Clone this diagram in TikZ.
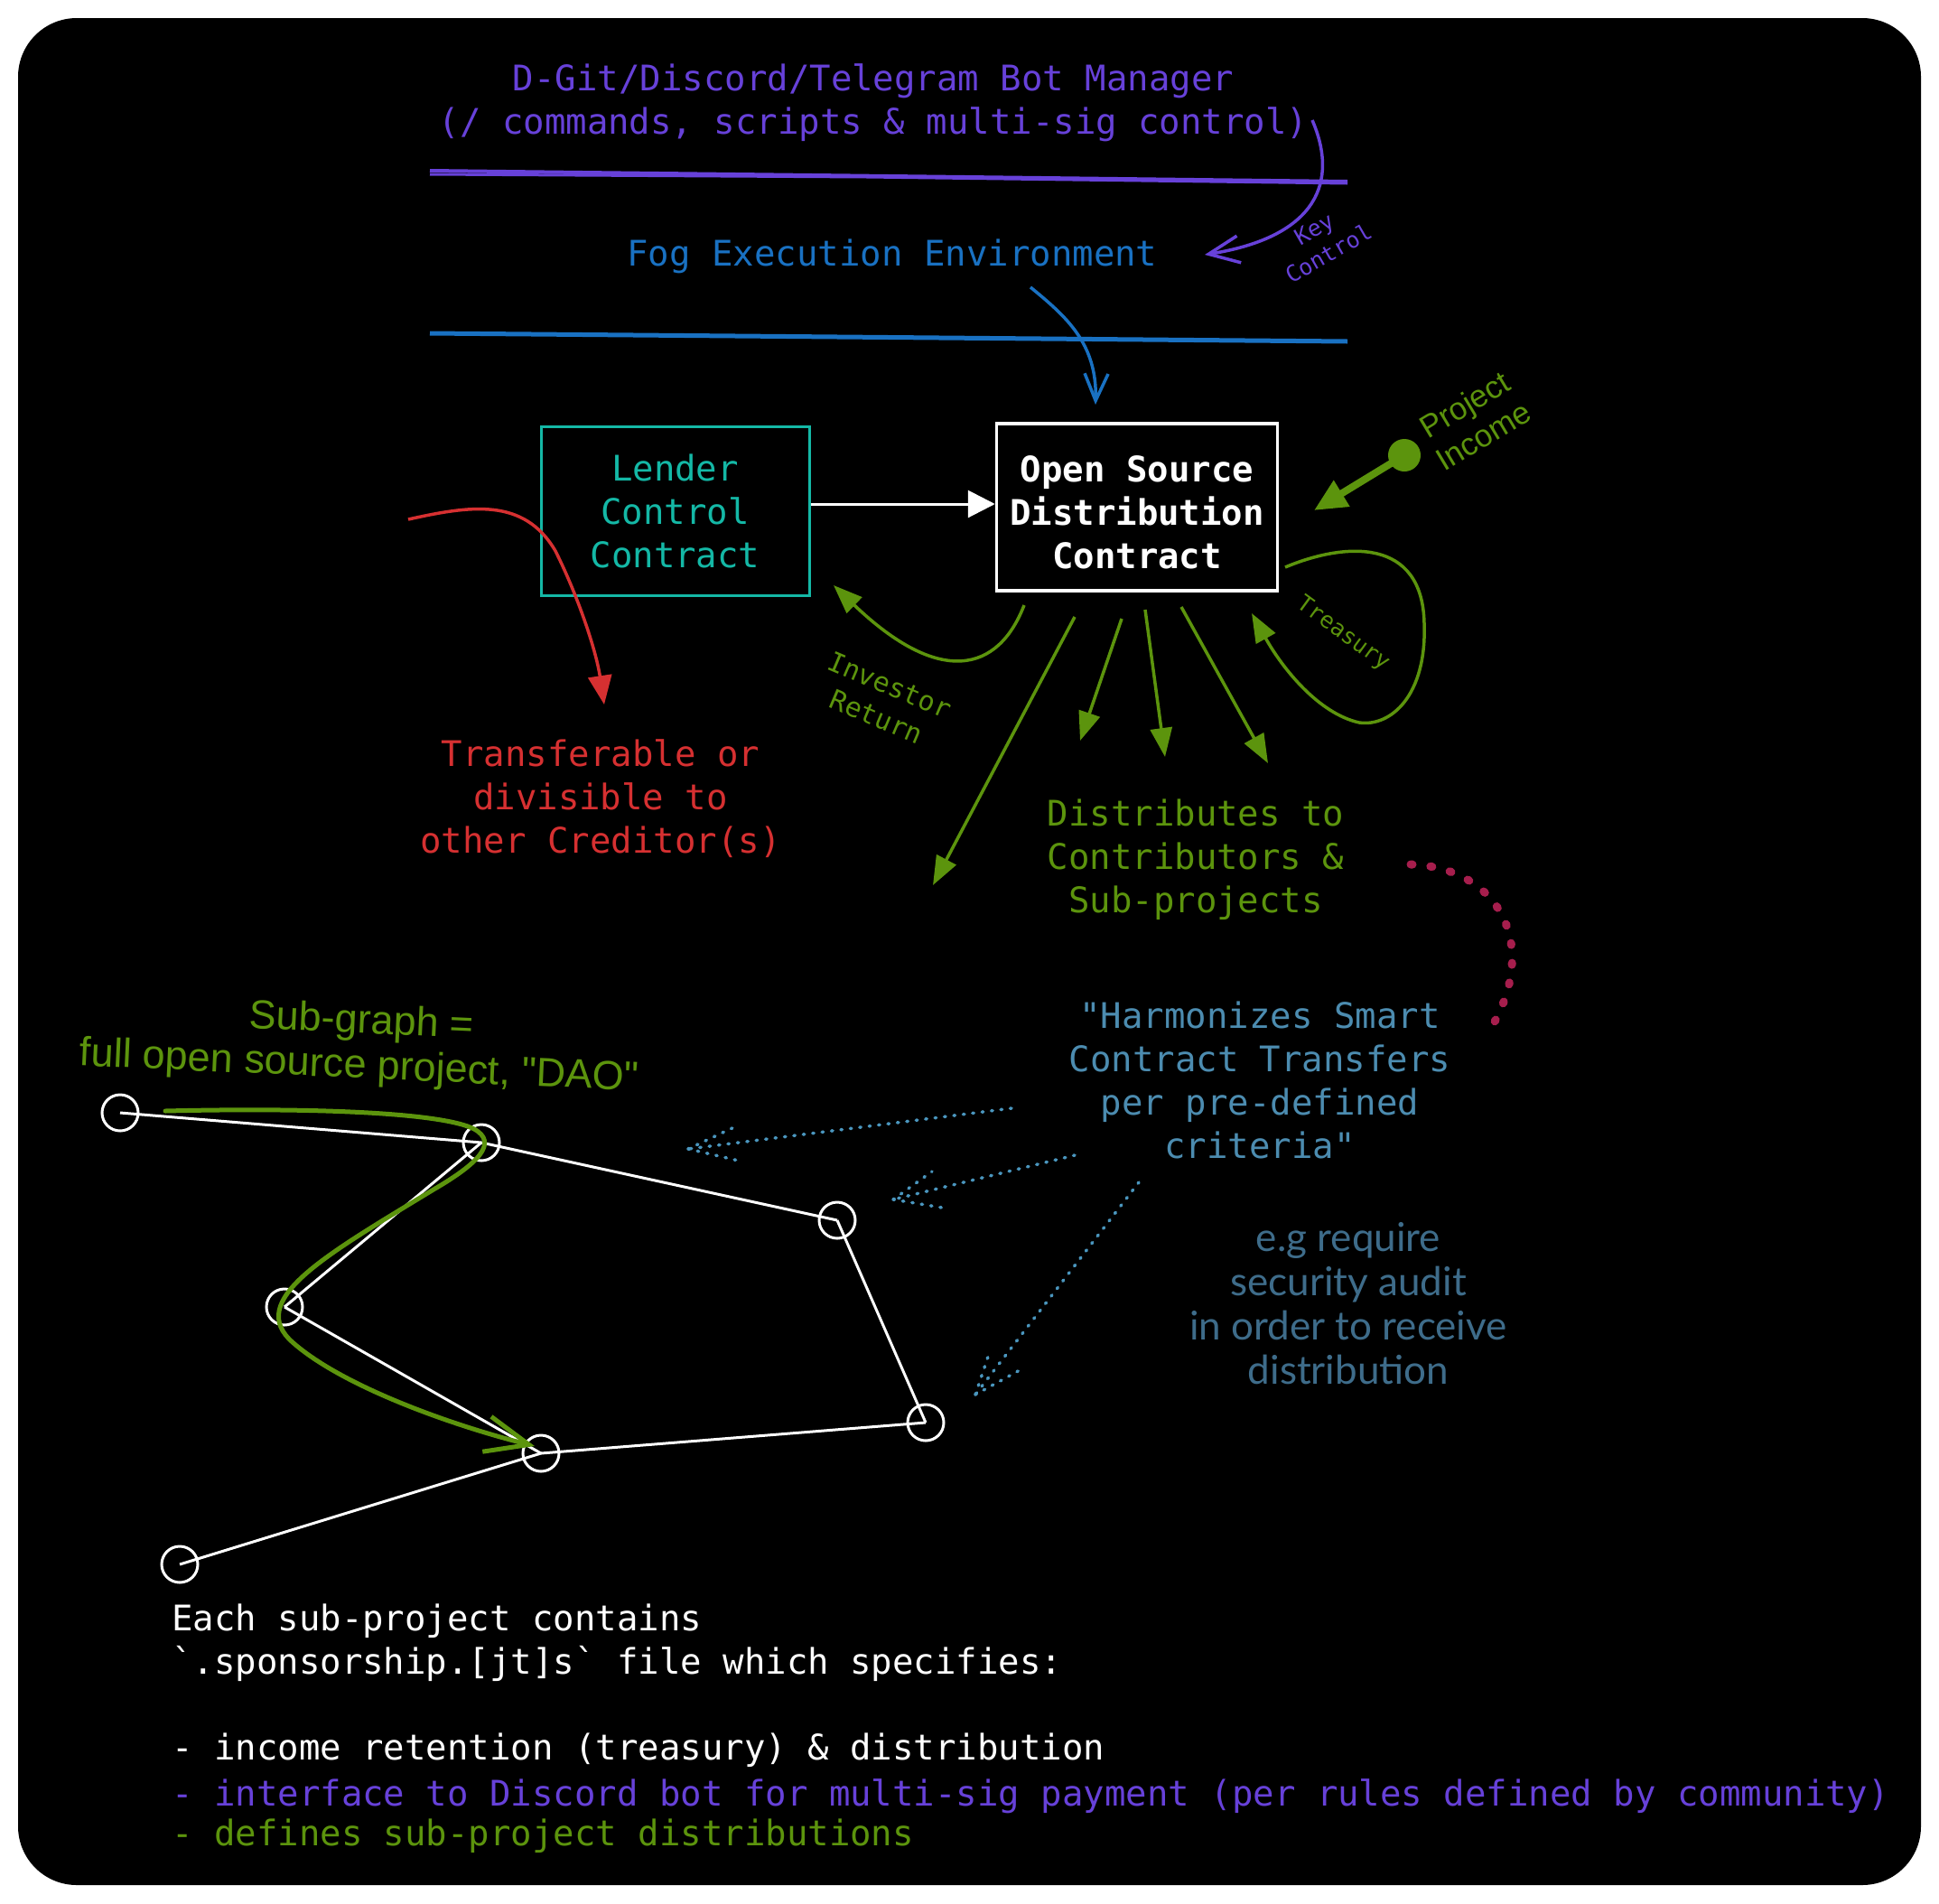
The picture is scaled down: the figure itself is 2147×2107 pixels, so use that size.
\documentclass[tikz,border=0pt]{standalone}
\usepackage{fontspec}
\usetikzlibrary{arrows.meta}
\newfontfamily\monof{DejaVu Sans Mono}
\newfontfamily\sansf{Liberation Sans}
\newfontfamily\handf{Lato}
\definecolor{purp}{RGB}{103,65,217}
\definecolor{fogblue}{RGB}{25,113,194}
\definecolor{tealc}{RGB}{20,184,166}
\definecolor{greenc}{RGB}{92,148,13}
\definecolor{redc}{RGB}{214,48,49}
\definecolor{crim}{RGB}{166,30,77}
\definecolor{steel}{RGB}{76,140,176}
\definecolor{egblue}{RGB}{62,108,138}
\definecolor{dotblue}{RGB}{74,150,190}
\begin{document}
\begin{tikzpicture}[x=1pt,y=-1pt,
  monotext/.style={font=\monof\fontsize{39}{48}\selectfont, inner sep=0pt, align=center},
  monoline/.style={font=\monof\fontsize{39}{48}\selectfont, inner sep=0pt, anchor=west, text height=28pt, text depth=9pt},
  boxnode/.style={draw, line width=3pt, inner sep=0pt, align=center, font=\monof\fontsize{39}{48}\selectfont},
  gnode/.style={circle, draw=white, line width=3pt, minimum size=40pt, inner sep=0pt},
  edge/.style={draw=white, line width=3pt},
  garrow/.style={draw=greenc, line width=3.5pt, -{Triangle[length=32pt,width=24pt]}},
  dotarrow/.style={draw=dotblue, line width=3.5pt, dash pattern=on 1.5pt off 9pt, line cap=round},
  sanstext/.style={font=\sansf\fontsize{45}{50}\selectfont, inner sep=0pt, align=center},
]
\useasboundingbox (0,0) rectangle (2147,2107);
\fill[white] (0,0) rectangle (2147,2107);
\fill[black, rounded corners=65pt] (20,20) rectangle (2127,2087);

% top layers
\node[monotext, text=purp] (botmgr) at (967,114) {D-Git/Discord/Telegram Bot Manager\\(/ commands, scripts \& multi-sig control)};
\draw[purp, line width=4pt] (476,189) -- (1492,201);
\draw[purp, line width=3pt] (476,193) -- (960,196) -- (1492,203);
\node[monotext, text=fogblue] (fog) at (988,284) {Fog Execution Environment};
\draw[fogblue, line width=5pt] (476,369) -- (1492,378);

% key control arrow
\coordinate (kcstart) at (1453,133);
\coordinate (kctip) at (1334,282);
\draw[purp, line width=3.5pt, -{Straight Barb[length=34pt,width=30pt]}] (kcstart) .. controls (1482,200) and (1460,262) .. (kctip);
\node[font=\monof\fontsize{25}{32}\selectfont, text=purp, rotate=30, align=center, inner sep=0pt] (keyc) at (1463,267) {Key\\Control};

% fog arrow
\coordinate (fogstart) at (1141,318);
\coordinate (fogtip) at (1213,448);
\draw[fogblue, line width=3.5pt, -{Straight Barb[length=30pt,width=26pt]}] (fogstart) .. controls (1180,350) and (1215,380) .. (fogtip);

% boxes
\node[boxnode, draw=tealc, text=tealc, minimum width=297pt, minimum height=187pt] (lender) at (747.5,565.5) {Lender\\Control\\Contract};
\node[boxnode, draw=white, line width=3.5pt, minimum width=311pt, minimum height=185pt] (osd) at (1259,561.5) {};
\node[monotext, text=white, font=\monof\bfseries\fontsize{39}{48}\selectfont] (osdtext) at (1259,567) {Open Source\\Distribution\\Contract};
\coordinate (wy) at (0,558);
\draw[white, line width=3pt, -{Triangle[length=30pt,width=30pt]}] (lender.east |- wy) -- (osd.west |- wy);

% red
\coordinate (redstart) at (452,575);
\coordinate (redtip) at (669,780);
\draw[redc, line width=3.5pt, -{Triangle[length=32pt,width=26pt]}] (redstart) .. controls (520,560) and (580,550) .. (615,610) .. controls (640,660) and (660,720) .. (redtip);
\node[monotext, text=redc] (transfer) at (665,884) {Transferable or\\divisible to\\other Creditor(s)};

% project income
\node[circle, fill=greenc, minimum size=36pt, inner sep=0pt] (pidot) at (1555,504) {};
\coordinate (pitip) at (1455,565);
\draw[greenc, line width=8pt, -{Triangle[length=36pt,width=32pt]}] (pidot.center) -- (pitip);
\node[font=\sansf\fontsize{35}{40}\selectfont, text=greenc, rotate=31, align=center, inner sep=0pt] (pinc) at (1632,465) {Project\\Income};

% investor return
\coordinate (invstart) at (1134,670);
\coordinate (invtip) at (923,648);
\draw[garrow] (invstart) .. controls (1105,745) and (1040,760) .. (invtip);
\node[font=\monof\fontsize{30}{38}\selectfont, text=greenc, rotate=-23, align=center, inner sep=0pt] (invr) at (978,776) {Investor\\Return};

% distribution arrows
\coordinate (a1s) at (1190,683); \coordinate (a1t) at (1033,980);
\coordinate (a2s) at (1242,685); \coordinate (a2t) at (1196,820);
\coordinate (a3s) at (1268,675); \coordinate (a3t) at (1290,838);
\coordinate (a4s) at (1308,672); \coordinate (a4t) at (1404,845);
\draw[garrow] (a1s) -- (a1t);
\draw[garrow] (a2s) -- (a2t);
\draw[garrow] (a3s) -- (a3t);
\draw[garrow] (a4s) -- (a4t);

% treasury loop
\coordinate (trs) at (1423,628);
\coordinate (trt) at (1386,679);
\draw[garrow] (trs) .. controls (1490,600) and (1575,595) .. (1577,690) .. controls (1580,770) and (1540,805) .. (1505,800) .. controls (1460,790) and (1420,740) .. (trt);
\node[font=\monof\fontsize{25}{32}\selectfont, text=greenc, rotate=-36, inner sep=0pt] (treas) at (1487,702) {Treasury};

\node[monotext, text=greenc] (dist) at (1324,952) {Distributes to\\Contributors \&\\Sub-projects};

% crimson dotted
\coordinate (cds) at (1562,957);
\coordinate (cde) at (1654,1133);
\draw[crim, line width=9pt, line cap=round, dash pattern=on 2pt off 20pt] (cds) .. controls (1655,960) and (1705,1040) .. (cde);

% harmonizes
\node[monotext, text=steel] (harm) at (1395,1196) {"Harmonizes Smart\\Contract Transfers\\per pre-defined\\criteria"};
\node[font=\handf\fontsize{44}{49}\selectfont, text=egblue, align=center, inner sep=0pt] (eg) at (1493,1443) {e.g require\\security audit\\in order to receive\\distribution};

% dotted arrows
\coordinate (d1s) at (1120,1227); \coordinate (d1t) at (762,1272);
\coordinate (d2s) at (1190,1279); \coordinate (d2t) at (989,1328);
\coordinate (d3s) at (1261,1309); \coordinate (d3t) at (1080,1544);
\draw[dotarrow] (d1s) -- (d1t);
\draw[dotarrow] (d1t) -- ++(55,-26);
\draw[dotarrow] (d1t) -- ++(60,14);
\draw[dotarrow] (d2s) -- (d2t);
\draw[dotarrow] (d2t) -- ++(43,-31);
\draw[dotarrow] (d2t) -- ++(54,9);
\draw[dotarrow] (d3s) -- (d3t);
\draw[dotarrow] (d3t) -- ++(15,-45);
\draw[dotarrow] (d3t) -- ++(49,-27);

% sub-graph
\node[sanstext, text=greenc, rotate=-2.6] (subg) at (399,1157) {Sub-graph =\\full open source project, "DAO"};
\node[gnode] (n1) at (133,1232) {};
\node[gnode] (n2) at (533,1265) {};
\node[gnode] (n3) at (927,1351) {};
\node[gnode] (n4) at (315,1447) {};
\node[gnode] (n5) at (1025,1575) {};
\node[gnode] (n6) at (599,1609) {};
\node[gnode] (n7) at (199,1732) {};
\draw[edge] (n1.center) -- (n2.center);
\draw[edge] (n2.center) -- (n3.center);
\draw[edge] (n2.center) -- (n4.center);
\draw[edge] (n4.center) -- (n6.center);
\draw[edge] (n3.center) -- (n5.center);
\draw[edge] (n5.center) -- (n6.center);
\draw[edge] (n6.center) -- (n7.center);
\coordinate (sgs) at (183,1230);
\coordinate (sgt) at (592,1601);
\draw[greenc, line width=5pt, line cap=round, -{Straight Barb[length=48pt,width=40pt]}] (sgs) .. controls (350,1226) and (490,1232) .. (525,1250) .. controls (552,1265) and (530,1288) .. (480,1317) .. controls (360,1390) and (270,1440) .. (325,1487) .. controls (380,1535) and (500,1578) .. (sgt);

% bottom text
\node[monoline, text=white] (b1) at (190,1796) {Each sub-project contains};
\node[monoline, text=white] (b2) at (190,1844) {\symbol{96}.sponsorship.[jt]s\symbol{96} file which specifies:};
\node[monoline, text=white] (b3) at (190,1939) {- income retention (treasury) \& distribution};
\node[monoline, text=purp] (b4) at (190,1990) {- interface to Discord bot for multi-sig payment (per rules defined by community)};
\node[monoline, text=greenc] (b5) at (190,2034) {- defines sub-project distributions};
\end{tikzpicture}
\end{document}
